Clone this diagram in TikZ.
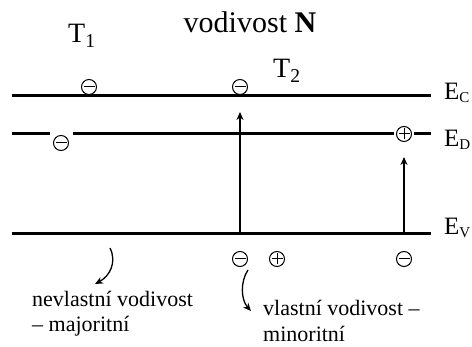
\documentclass[tikz,border=0pt]{standalone}
\usepackage{fontspec}
\setmainfont{Liberation Serif}
\usetikzlibrary{arrows.meta}
\tikzset{
  level/.style={line width=3pt},
  arr/.style={line width=1.3pt,-{Stealth[length=8pt,width=7pt]}},
  chg/.style={circle,draw,line width=1pt,minimum size=15pt,inner sep=0pt},
  negchg/.style={chg,path picture={\draw[line width=1pt] ([xshift=-5.5pt]path picture bounding box.center)--([xshift=5.5pt]path picture bounding box.center);}},
  poschg/.style={chg,path picture={\draw[line width=1pt] ([xshift=-5.5pt]path picture bounding box.center)--([xshift=5.5pt]path picture bounding box.center) ([yshift=-5.5pt]path picture bounding box.center)--([yshift=5.5pt]path picture bounding box.center);}},
  lbl/.style={inner sep=0pt,anchor=base west,font=\fontsize{25}{30}\selectfont},
  elbl/.style={inner sep=0pt,anchor=base west},
  note/.style={inner sep=0pt,anchor=base west,font=\fontsize{22}{26}\selectfont},
}
\newcommand{\elev}[1]{{\fontsize{25}{30}\selectfont E}\raisebox{-3pt}{\fontsize{15}{18}\selectfont #1}}
\begin{document}
\begin{tikzpicture}[x=1pt,y=-1pt]
\useasboundingbox (0,0) rectangle (472,347);
% levels
\coordinate (c1) at (12,96); \coordinate (c2) at (431,96);
\coordinate (d1) at (12,134); \coordinate (d2) at (50,134);
\coordinate (d3) at (73,134); \coordinate (d4) at (394,134);
\coordinate (d5) at (414,134); \coordinate (d6) at (431,134);
\coordinate (v1) at (12,234); \coordinate (v2) at (431,234);
\draw[level] (c1) -- (c2);
\draw[level] (d1) -- (d2) (d3) -- (d4) (d5) -- (d6);
\draw[level] (v1) -- (v2);
% labels
\node[elbl] (EC) at (444,100) {\elev{C}};
\node[elbl] (ED) at (444,147) {\elev{D}};
\node[elbl] (EV) at (444,235) {\elev{V}};
\node[lbl,font=\fontsize{28}{32}\selectfont] (T1) at (68,43) {T\textsubscript{1}};
\node[lbl,font=\fontsize{28}{32}\selectfont] (T2) at (273,78) {T\textsubscript{2}};
\node[inner sep=0pt,anchor=base,font=\fontsize{30}{34}\selectfont] (title) at (250,33) {vodivost \textbf{N}};
% charges
\node[negchg] (n1) at (89,87) {};
\node[negchg] (n2) at (240,87) {};
\node[negchg] (n3) at (61,143) {};
\node[poschg] (p1) at (404,134) {};
\node[negchg] (n4) at (240,259) {};
\node[poschg] (p2) at (277,259) {};
\node[negchg] (n5) at (404,259) {};
% vertical arrows
\coordinate (a1s) at (240,234); \coordinate (a1e) at (240,112);
\coordinate (a2s) at (404,234); \coordinate (a2e) at (404,157);
\draw[arr] (a1s) -- (a1e);
\draw[arr] (a2s) -- (a2e);
% notes
\node[note] (t1) at (32,307) {nevlastní vodivost};
\node[note] (t2) at (32,332) {– majoritní};
\node[note] (t3) at (263,316) {vlastní vodivost –};
\node[note] (t4) at (263,342) {minoritní};
% curved arrows
\coordinate (b1s) at (110,248); \coordinate (b1e) at (95,284);
\coordinate (b2s) at (248,270); \coordinate (b2e) at (251,311);
\draw[arr] (b1s) .. controls (117,262) and (110,276) .. (b1e);
\draw[arr] (b2s) .. controls (240,282) and (241,300) .. (b2e);
\end{tikzpicture}
\end{document}
